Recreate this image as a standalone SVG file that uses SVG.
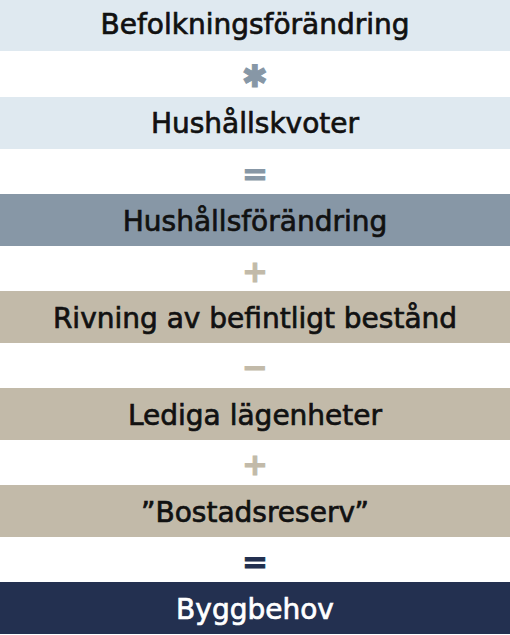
<svg xmlns="http://www.w3.org/2000/svg" width="510" height="635" viewBox="0 0 510 635">
<style>
.lbl{font-family:"DejaVu Sans","Liberation Sans",sans-serif;font-size:28px;text-anchor:middle;stroke-width:0.7px}
.dk{fill:#111;stroke:#111}
.wt{fill:#ffffff;stroke:#ffffff}
.sym{font-family:"DejaVu Sans","Liberation Sans",sans-serif;font-weight:bold;font-size:31px;text-anchor:middle;stroke-width:1px}
.s1{fill:#8797a6;stroke:#8797a6}.s2{fill:#c2baa9;stroke:#c2baa9}.s3{fill:#233050;stroke:#233050}
.lb{fill:#dfe9f0}.gb{fill:#8797a6}.bg{fill:#c2baa9}.nv{fill:#233050}
</style>
<rect width="510" height="635" fill="#ffffff"/>
<g id="n1"><rect class="lb" x="0" y="0" width="510" height="51"/><text class="lbl dk" x="255" y="34">Befolkningsförändring</text></g>
<g id="n2"><rect class="lb" x="0" y="97" width="510" height="52"/><text class="lbl dk" x="255" y="132.5">Hushållskvoter</text></g>
<g id="n3"><rect class="gb" x="0" y="194" width="510" height="52"/><text class="lbl dk" x="255" y="230.5">Hushållsförändring</text></g>
<g id="n4"><rect class="bg" x="0" y="291" width="510" height="52"/><text class="lbl dk" x="255" y="327.5">Rivning av befintligt bestånd</text></g>
<g id="n5"><rect class="bg" x="0" y="388" width="510" height="52"/><text class="lbl dk" x="255" y="424.5">Lediga lägenheter</text></g>
<g id="n6"><rect class="bg" x="0" y="485" width="510" height="52"/><text class="lbl dk" x="255" y="521.5">”Bostadsreserv”</text></g>
<g id="n7"><rect class="nv" x="0" y="582" width="510" height="52"/><text class="lbl wt" x="255" y="618.5">Byggbehov</text></g>
<g id="connectors">
<text class="sym s1" x="255" y="87">✱</text>
<text class="sym s1" x="255" y="184">=</text>
<text class="sym s2" x="255" y="282">+</text>
<text class="sym s2" x="255" y="378">−</text>
<text class="sym s2" x="255" y="475">+</text>
<text class="sym s3" x="255" y="572">=</text>
</g>
</svg>
